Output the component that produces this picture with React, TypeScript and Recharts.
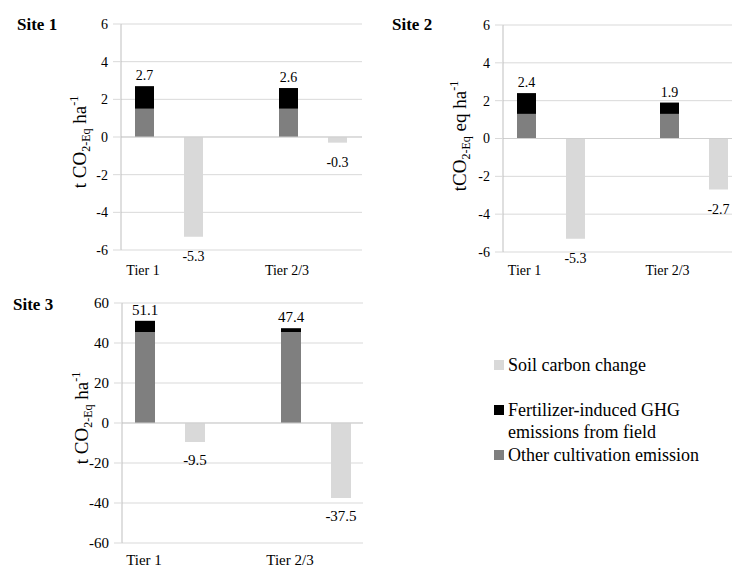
import React from 'react';
import { BarChart, Bar, XAxis, YAxis, CartesianGrid, ReferenceLine, LabelList, Label } from 'recharts';

const tiers = ['Tier 1', 'Tier 2/3'];

const site1Other = [1.5, 1.5];
const site1Fert = [1.2, 1.1];
const site1Total = [2.7, 2.6];
const site1Soil = [-5.3, -0.3];

const site2Other = [1.3, 1.3];
const site2Fert = [1.1, 0.6];
const site2Total = [2.4, 1.9];
const site2Soil = [-5.3, -2.7];

const site3Other = [45.5, 45.4];
const site3Fert = [5.6, 2.0];
const site3Total = [51.1, 47.4];
const site3Soil = [-9.5, -37.5];

const smallTicks = [-6, -4, -2, 0, 2, 4, 6];
const bigTicks = [-60, -40, -20, 0, 20, 40, 60];

const seriesNames = ['Soil carbon change', 'Fertilizer-induced GHG emissions from field', 'Other cultivation emission'];
const seriesColors = ['#d9d9d9', '#000000', '#7f7f7f'];

const FONT = '"Liberation Serif", "Times New Roman", serif';

function rows(other, fert, total, soil) {
  return tiers.map((tier, i) => ({ tier, other: other[i], fert: fert[i], total: total[i], soil: soil[i] }));
}

function AxisTitle({ x, y, lead, tail }) {
  return (
    <text x={x} y={y} transform={`rotate(-90 ${x} ${y})`} textAnchor="middle" fontFamily={FONT} fontSize={19} fill="#000">
      <tspan>{lead}</tspan>
      <tspan fontSize={12} dy={4}>2-Eq</tspan>
      <tspan dy={-4}>{tail}</tspan>
      <tspan fontSize={12} dy={-8}>-1</tspan>
    </text>
  );
}

function SitePanel({ title, titleLeft, titleTop, data, ticks, left, top, width, height, margin, yWidth, xHeight, padding, barSize, tickMargin, labelX, labelY, lead, tail, fontSize, soilOffset }) {
  const tickStyle = { fontSize, fill: '#000', fontFamily: FONT };
  return (
    <>
      <div style={{ position: 'absolute', left: titleLeft, top: titleTop, fontWeight: 'bold', fontSize: 17, lineHeight: '18px', fontFamily: FONT }}>
        {title}
      </div>
      <div style={{ position: 'absolute', left, top }}>
        <BarChart width={width} height={height} data={data} margin={margin} barGap={30}>
          <CartesianGrid vertical={false} stroke="#d9d9d9" />
          <XAxis
            dataKey="tier"
            interval={0}
            axisLine={false}
            tickLine={false}
            tickSize={0}
            tickMargin={tickMargin}
            height={xHeight}
            padding={padding}
            tick={{ ...tickStyle, dx: -26 }}
          />
          <YAxis
            domain={[ticks[0], ticks[ticks.length - 1]]}
            ticks={ticks}
            width={yWidth}
            axisLine={{ stroke: '#bfbfbf' }}
            tickLine={{ stroke: '#d9d9d9' }}
            tickSize={8}
            tickMargin={5}
            tick={tickStyle}
          >
            <Label content={() => <AxisTitle x={labelX} y={labelY} lead={lead} tail={tail} />} />
          </YAxis>
          <ReferenceLine y={0} stroke="#cfcfcf" />
          <Bar dataKey="other" stackId="a" fill={seriesColors[2]} barSize={barSize} isAnimationActive={false} />
          <Bar dataKey="fert" stackId="a" fill={seriesColors[1]} barSize={barSize} isAnimationActive={false}>
            <LabelList dataKey="total" position="top" offset={6} fontSize={fontSize} fill="#000" fontFamily={FONT} />
          </Bar>
          <Bar dataKey="soil" fill={seriesColors[0]} barSize={barSize} isAnimationActive={false}>
            {/* negative bars: "top" lands under the bar's end */}
            <LabelList dataKey="soil" position="top" offset={soilOffset} fontSize={fontSize} fill="#000" fontFamily={FONT} />
          </Bar>
        </BarChart>
      </div>
    </>
  );
}

const legendTops = [354, 399, 444];

export default function App() {
  return (
    <div style={{ position: 'absolute', left: 0, top: 0, width: 732, height: 568, background: '#fff', fontFamily: FONT, overflow: 'hidden' }}>
      <SitePanel
        title="Site 1" titleLeft={17} titleTop={16}
        data={rows(site1Other, site1Fert, site1Total, site1Soil)} ticks={smallTicks}
        left={0} top={0} width={366} height={290}
        margin={{ top: 24, right: 4, bottom: 0, left: 0 }} yWidth={121} xHeight={40}
        padding={{ left: -24, right: -23 }} barSize={19} tickMargin={15}
        labelX={86} labelY={142} lead="t CO" tail=" ha" fontSize={14} soilOffset={14}
      />
      <SitePanel
        title="Site 2" titleLeft={392} titleTop={16}
        data={rows(site2Other, site2Fert, site2Total, site2Soil)} ticks={smallTicks}
        left={366} top={0} width={366} height={290}
        margin={{ top: 25, right: 0, bottom: 0, left: 0 }} yWidth={137} xHeight={38}
        padding={{ left: -24, right: -33 }} barSize={19} tickMargin={13}
        labelX={100} labelY={136} lead="tCO" tail=" eq ha" fontSize={14} soilOffset={14}
      />
      <SitePanel
        title="Site 3" titleLeft={13} titleTop={296}
        data={rows(site3Other, site3Fert, site3Total, site3Soil)} ticks={bigTicks}
        left={0} top={280} width={366} height={288}
        margin={{ top: 23, right: 3, bottom: 0, left: 0 }} yWidth={122} xHeight={25}
        padding={{ left: -25, right: -26 }} barSize={20} tickMargin={11}
        labelX={88} labelY={138} lead="t CO" tail=" ha" fontSize={15} soilOffset={12}
      />
      {seriesNames.map((name, i) => (
        <div key={name} style={{ position: 'absolute', left: 494, top: legendTops[i], display: 'flex', alignItems: 'flex-start' }}>
          <div style={{ width: 10, height: 10, marginTop: 6, marginRight: 4, background: seriesColors[i] }} />
          <div style={{ width: 200, fontSize: 18, lineHeight: '22px', color: '#000' }}>{name}</div>
        </div>
      ))}
    </div>
  );
}
